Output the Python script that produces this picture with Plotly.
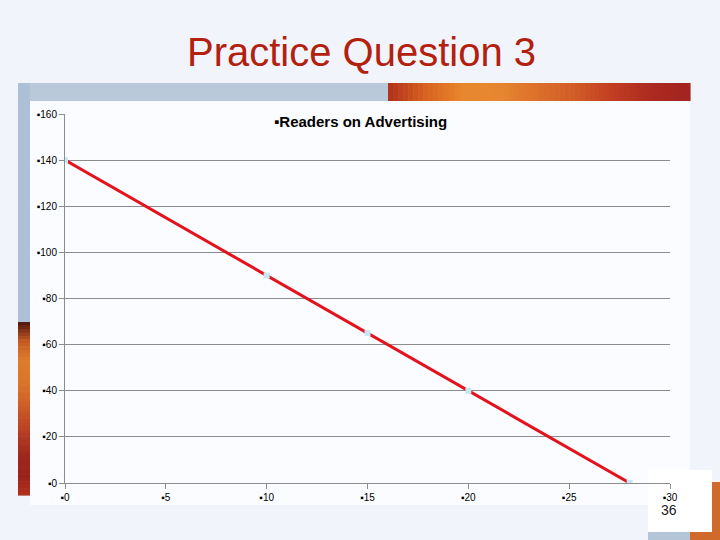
import plotly.graph_objects as go

# ---- data ----
price = [0, 10, 15, 20, 28]
readers = [140, 90, 65, 40, 0]
x_ticks = [0, 5, 10, 15, 20, 25, 30]
y_ticks = [0, 20, 40, 60, 80, 100, 120, 140, 160]
x_tick_labels = ["\u25aa" + str(v) for v in x_ticks]
y_tick_labels = ["\u25aa" + str(v) for v in y_ticks]

W, H = 720, 540
L, R, T, B = 65, 670, 114, 483  # plot area in pixels


def px(x):
    return (x - L) / (R - L)


def py(y):
    return (B - y) / (B - T)


def hex2rgb(h):
    h = h.lstrip("#")
    return [int(h[i:i + 2], 16) for i in (0, 2, 4)]


def interp(stops, t):
    n = len(stops) - 1
    pos = t * n
    i = min(int(pos), n - 1)
    f = pos - i
    a, b = hex2rgb(stops[i]), hex2rgb(stops[i + 1])
    c = [round(a[k] + (b[k] - a[k]) * f) for k in range(3)]
    return "rgb(%d,%d,%d)" % tuple(c)


fig = go.Figure()
fig.add_trace(go.Scatter(
    x=price, y=readers, mode="lines+markers",
    line=dict(color="#e3121c", width=3),
    marker=dict(symbol="square", size=6, color="#c6e6f2",
                line=dict(width=0)),
    showlegend=False, hoverinfo="x+y",
))

shapes = []


def rect(x0, y0, x1, y1, color, layer="below"):
    shapes.append(dict(type="rect", xref="paper", yref="paper",
                       x0=px(x0), x1=px(x1), y0=py(y1), y1=py(y0),
                       fillcolor=color, line=dict(width=0), layer=layer))


# chart area (white)
rect(30, 101, 690, 505, "#fbfcff")
# top banner: blue-grey left part
rect(18, 83, 388, 101, "#b9c9da")
# top banner: orange-red gradient right part
hstops = ["#b0301c", "#d8621f", "#e8882e", "#e68630", "#dc6e2a",
          "#d05a26", "#c03c22", "#ac2a20", "#a22420"]
N = 60
seg = (690 - 388) / N
for i in range(N):
    rect(388 + i * seg, 83, 388 + (i + 1) * seg + 0.6, 101,
         interp(hstops, (i + 0.5) / N))
# left vertical bar
rect(18, 83, 30, 322, "#aec0d6")
vstops = ["#4a140e", "#c45a22", "#de7c2c", "#dc762a", "#d26628",
          "#c44e26", "#b03822", "#9e281e", "#9a221c", "#b0301e"]
M = 50
vseg = (495 - 322) / M
for i in range(M):
    rect(18, 322 + i * vseg, 30, 322 + (i + 1) * vseg + 0.6,
         interp(vstops, (i + 0.5) / M))
# bottom right picture and white box
rect(648, 482, 690, 540, "#b5c5d8")
rect(690, 482, 720, 540, "#d06a2a")
rect(648, 470, 712, 532, "#ffffff")

fig.update_layout(
    width=W, height=H,
    margin=dict(l=L, r=W - R, t=T, b=H - B),
    paper_bgcolor="#f1f5fb",
    plot_bgcolor="rgba(0,0,0,0)",
    font=dict(family="Liberation Sans, Arial, sans-serif", color="#000000"),
    shapes=shapes,
    xaxis=dict(range=[0, 30], tickvals=x_ticks, ticktext=x_tick_labels,
               showgrid=False, zeroline=False, showline=True,
               linecolor="#8c8c8c", linewidth=1,
               ticks="outside", ticklen=5, tickcolor="#8c8c8c",
               tickfont=dict(size=10, color="#000000")),
    yaxis=dict(range=[0, 160], tickvals=y_ticks, ticktext=y_tick_labels,
               showgrid=True, gridcolor="#8c8c8c", gridwidth=1,
               zeroline=False, showline=True,
               linecolor="#8c8c8c", linewidth=1,
               ticks="outside", ticklen=5, tickcolor="#8c8c8c",
               tickfont=dict(size=10, color="#000000")),
    annotations=[
        dict(text="Practice Question 3", xref="paper", yref="paper",
             x=px(361), y=py(52), xanchor="center", yanchor="middle",
             showarrow=False,
             font=dict(size=40, color="#b3200e",
                       family="Liberation Sans, Arial, sans-serif")),
        dict(text="<b>\u25aaReaders on Advertising</b>", xref="paper",
             yref="paper", x=px(360), y=py(121), xanchor="center",
             yanchor="middle", showarrow=False,
             font=dict(size=15, color="#000000")),
        dict(text="36", xref="paper", yref="paper", x=px(669), y=py(510),
             xanchor="center", yanchor="middle", showarrow=False,
             font=dict(size=14, color="#222222")),
    ],
)

fig.write_html("out.html",
               config={"displayModeBar": False},
               post_script="document.body.style.margin='0';"
                           "document.body.style.overflow='hidden';")
